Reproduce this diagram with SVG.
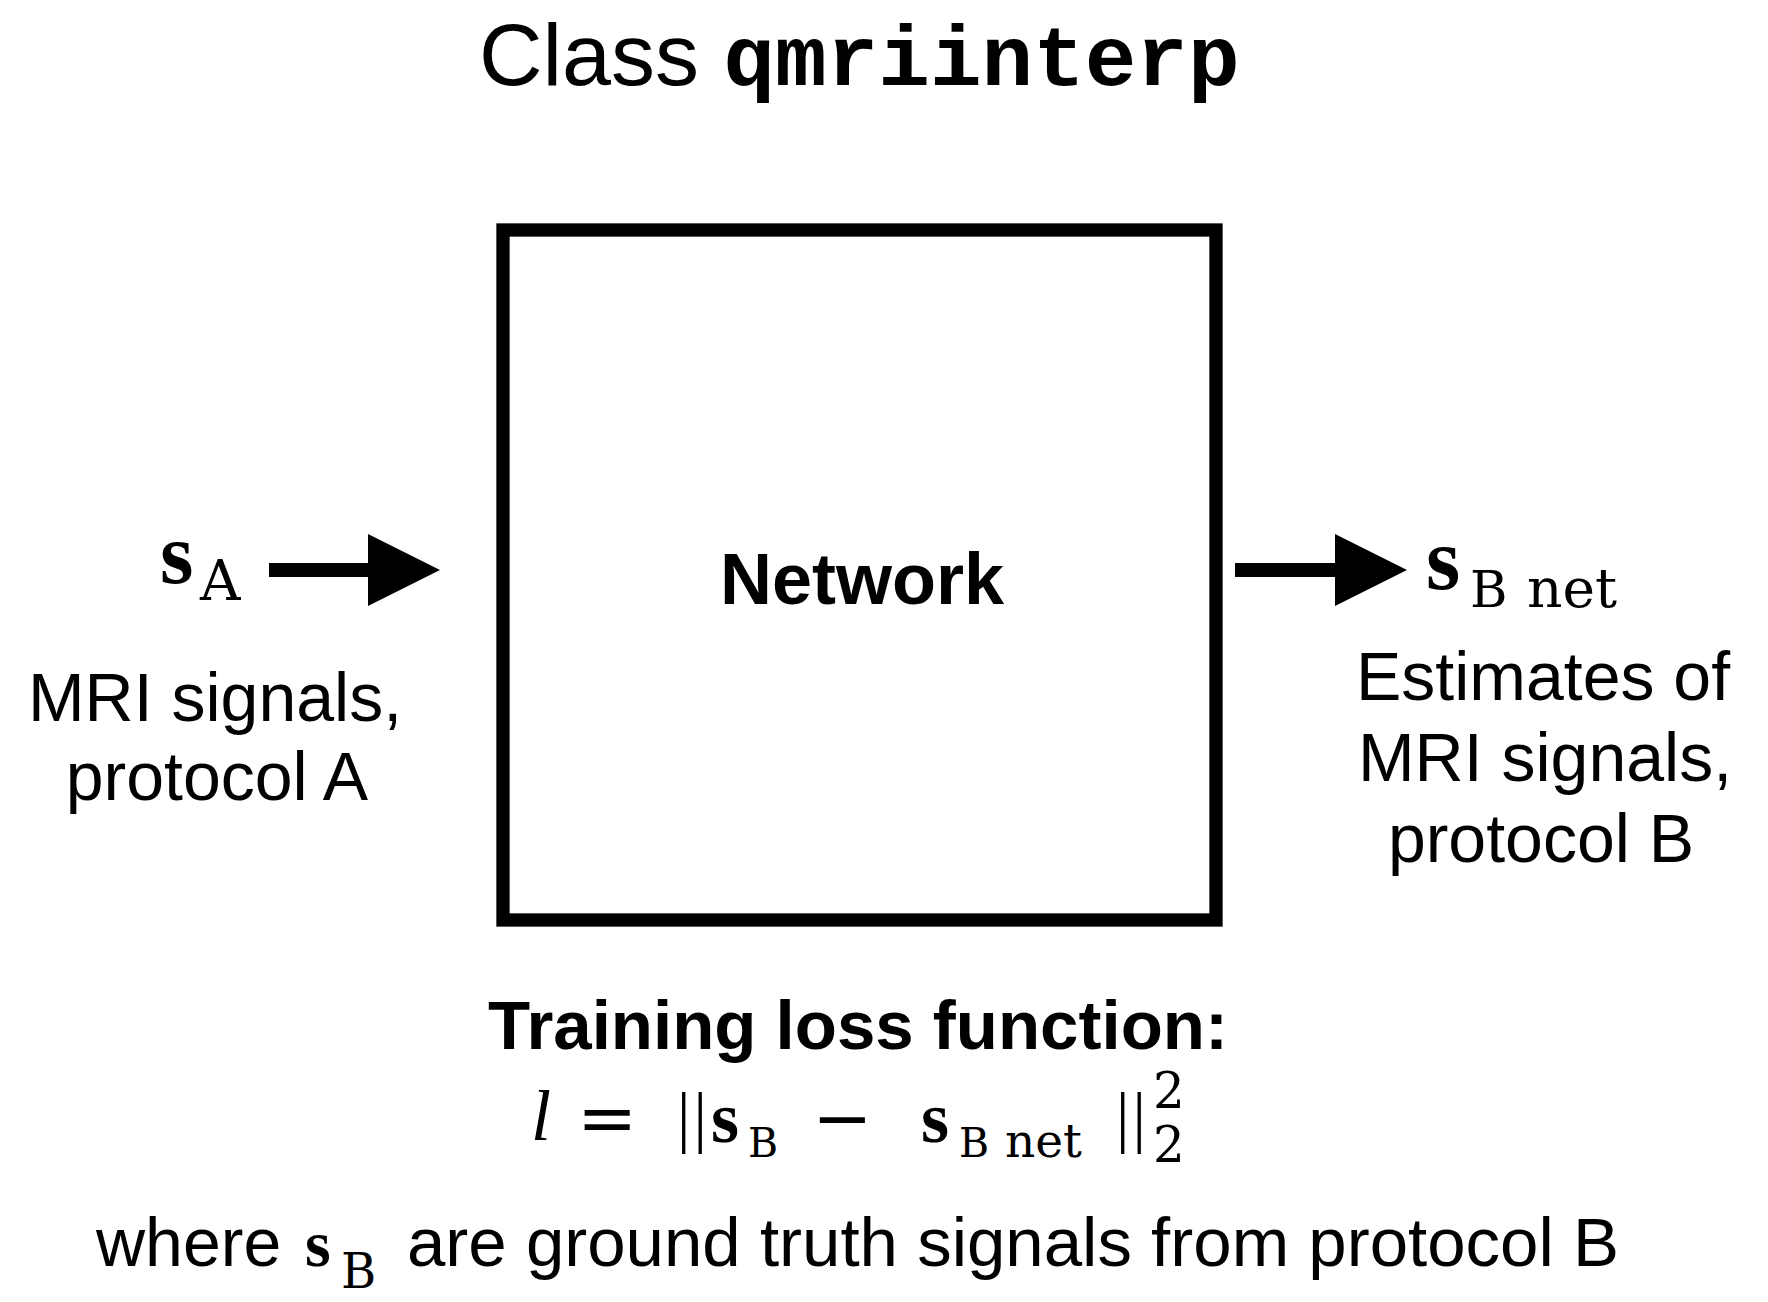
<svg xmlns="http://www.w3.org/2000/svg" width="1768" height="1302" viewBox="0 0 1768 1302">
<style>
.sans{font-family:"Liberation Sans",Arial,sans-serif;fill:#000}
.bold{font-weight:bold}
.mono{font-family:"Liberation Mono","Courier New",monospace;font-weight:bold}
.vec{font-family:"Liberation Serif","Times New Roman",serif;font-weight:bold;fill:#000}
.sub{font-family:"DejaVu Serif",serif;fill:#000}
.ser{font-family:"Liberation Serif","Times New Roman",serif;fill:#000}
.conn{stroke:#000;stroke-width:14;fill:none}
</style>
<defs>
<marker id="head" viewBox="0 0 72 72" refX="0" refY="36" markerWidth="72" markerHeight="72" markerUnits="userSpaceOnUse" orient="auto">
<path d="M0,0 L72,36 L0,72 Z" fill="#000"/>
</marker>
</defs>
<rect width="1768" height="1302" fill="#fff"/>
<g id="title">
<text x="479" y="85" font-size="88" class="sans">Class <tspan class="mono" font-size="86">qmriinterp</tspan></text>
</g>
<g id="network">
<rect x="503" y="230" width="713" height="690" fill="#fff" stroke="#000" stroke-width="13.3"/>
<text x="862" y="604" font-size="72" class="sans bold" text-anchor="middle">Network</text>
</g>
<g id="input">
<text x="160" y="583" font-size="86" class="vec">s</text>
<text x="200" y="600" font-size="56" class="sub">A</text>
<text x="215" y="721" font-size="68" class="sans" text-anchor="middle">MRI signals,</text>
<text x="217" y="800" font-size="68" class="sans" text-anchor="middle">protocol A</text>
</g>
<g id="output">
<text x="1426" y="589" font-size="88" class="vec">s</text>
<text x="1470" y="607" font-size="51" class="sub">B</text>
<text x="1527" y="607" font-size="55" class="sub">net</text>
<text x="1543" y="700" font-size="68" class="sans" text-anchor="middle">Estimates of</text>
<text x="1545" y="781" font-size="68" class="sans" text-anchor="middle">MRI signals,</text>
<text x="1541" y="862" font-size="68" class="sans" text-anchor="middle">protocol B</text>
</g>
<g id="connectors">
<line class="conn" x1="269" y1="570" x2="368" y2="570" marker-end="url(#head)"/>
<line class="conn" x1="1235" y1="570" x2="1335" y2="570" marker-end="url(#head)"/>
</g>
<g id="loss">
<text x="858" y="1049" font-size="69" class="sans bold" text-anchor="middle">Training loss function:</text>
<text x="531" y="1140" font-size="72" class="ser" font-style="italic">l</text>
<text x="577" y="1143" font-size="72" class="sub">=</text>
<text x="677" y="1140" font-size="67" class="ser" letter-spacing="3">||</text>
<text x="711" y="1142" font-size="72" class="vec">s</text>
<text x="748" y="1157" font-size="41" class="sub">B</text>
<text x="812" y="1143" font-size="72" class="sub">−</text>
<text x="921" y="1142" font-size="72" class="vec">s</text>
<text x="959" y="1157" font-size="41" class="sub">B</text>
<text x="1005" y="1157" font-size="47" class="sub">net</text>
<text x="1116" y="1140" font-size="67" class="ser" letter-spacing="3">||</text>
<text x="1153" y="1108" font-size="50" class="sub">2</text>
<text x="1153" y="1162" font-size="50" class="sub">2</text>
</g>
<g id="footnote">
<text x="96" y="1266" font-size="68" class="sans">where</text>
<text x="305" y="1266" font-size="66" class="vec">s</text>
<text x="341" y="1288" font-size="48" class="sub">B</text>
<text x="407" y="1266" font-size="69" class="sans">are ground truth signals from protocol B</text>
</g>
</svg>
